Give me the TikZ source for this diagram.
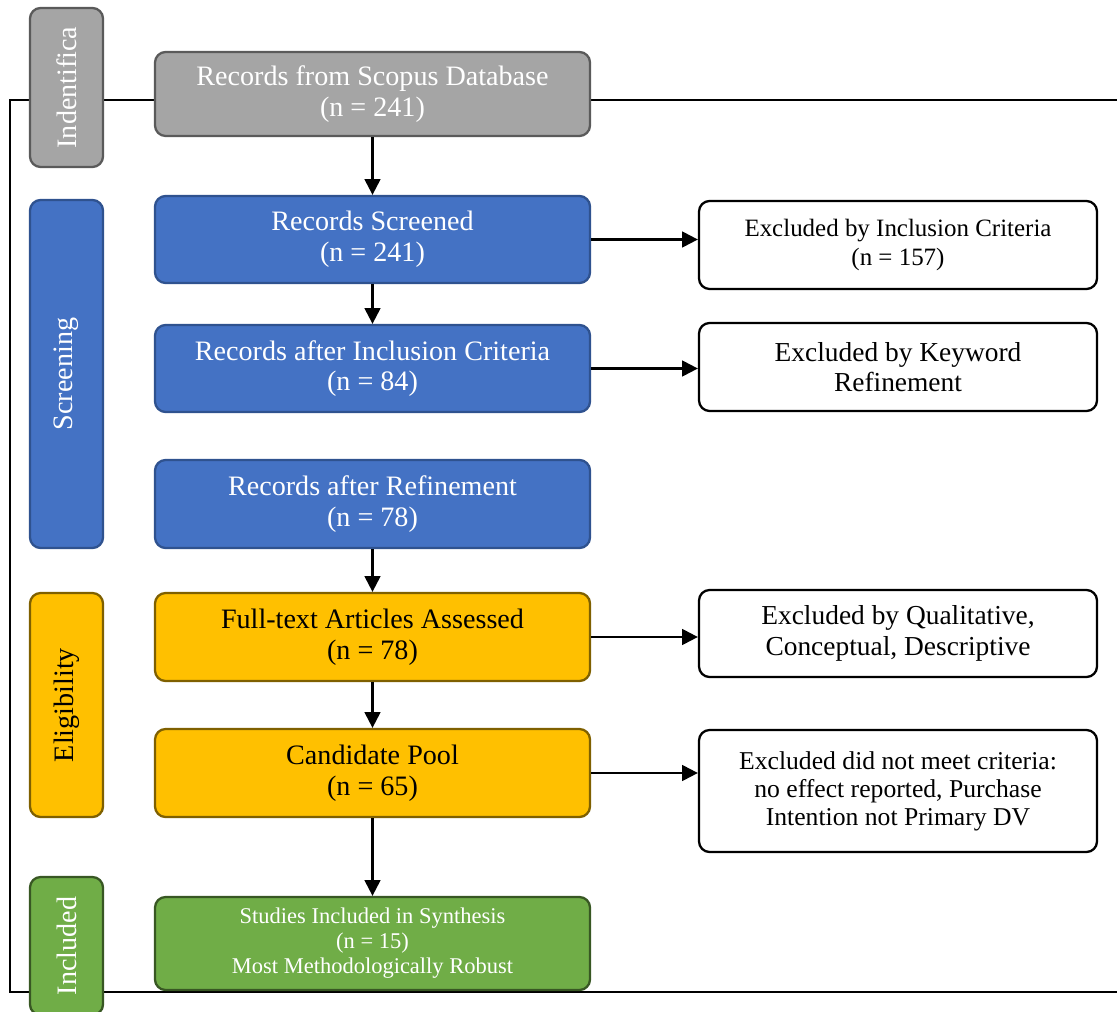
\documentclass[tikz,border=0pt]{standalone}
\usepackage{fontspec}
\setmainfont{Liberation Serif}
\usetikzlibrary{arrows.meta}
\definecolor{idfill}{HTML}{A5A5A5}
\definecolor{iddraw}{HTML}{5A5A5A}
\definecolor{scfill}{HTML}{4472C4}
\definecolor{scdraw}{HTML}{2F528F}
\definecolor{elfill}{HTML}{FFC000}
\definecolor{eldraw}{HTML}{7F6000}
\definecolor{infill}{HTML}{70AD47}
\definecolor{indraw}{HTML}{385723}

\begin{document}
\begin{tikzpicture}[
    >={Triangle[length=9pt,width=9pt]},
    box/.style={draw, line width=1.3pt, rounded corners=6pt, align=center,
      minimum width=8.7cm, inner sep=2pt, font=\fontsize{16}{17.5}\selectfont},
    exbox/.style={box, fill=white, draw=black, minimum width=7.96cm},
    side/.style={draw, line width=1.3pt, rounded corners=6pt, rotate=90,
      minimum height=1.46cm, inner sep=0pt, font=\fontsize{16}{17}\selectfont},
    link/.style={->, line width=1.3pt}
  ]
    \useasboundingbox (0, 0) rectangle (22.34, 20.22);

    % frame round the whole flow
    \coordinate (ftr) at (22.8, 18.22);
    \coordinate (ftl) at (0.2, 18.22);
    \coordinate (fbl) at (0.2, 0.38);
    \coordinate (fbr) at (22.8, 0.38);
    \draw[line width=1.3pt] (ftr) -- (ftl) -- (fbl) -- (fbr);

    % stages down the left side
    \node[side, fill=idfill, draw=iddraw, text=white, minimum width=3.18cm] (id) at (1.33, 18.47) {Indentifica};
    \node[side, fill=scfill, draw=scdraw, text=white, minimum width=6.96cm] (sc) at (1.33, 12.74) {Screening};
    \node[side, fill=elfill, draw=eldraw, text=black, minimum width=4.48cm] (el) at (1.33, 6.12) {Eligibility};
    \node[side, fill=infill, draw=indraw, text=white, minimum width=2.76cm] (in) at (1.33, 1.30) {Included};

    % main column
    \node[box, fill=idfill, draw=iddraw, text=white, minimum height=1.68cm] (src) at (7.45, 18.34)
      {Records from Scopus Database\\(n = 241)};
    \node[box, fill=scfill, draw=scdraw, text=white, minimum height=1.74cm] (scr) at (7.45, 15.43)
      {Records Screened\\(n = 241)};
    \node[box, fill=scfill, draw=scdraw, text=white, minimum height=1.74cm] (inc) at (7.45, 12.85)
      {Records after Inclusion Criteria\\(n = 84)};
    \node[box, fill=scfill, draw=scdraw, text=white, minimum height=1.76cm] (ref) at (7.45, 10.14)
      {Records after Refinement\\(n = 78)};
    \node[box, fill=elfill, draw=eldraw, text=black, minimum height=1.76cm] (full) at (7.45, 7.48)
      {Full-text Articles Assessed\\(n = 78)};
    \node[box, fill=elfill, draw=eldraw, text=black, minimum height=1.76cm] (pool) at (7.45, 4.76)
      {Candidate Pool\\(n = 65)};
    \node[box, fill=infill, draw=indraw, text=white, minimum height=1.86cm,
      font=\fontsize{12.8}{14.2}\selectfont] (syn) at (7.45, 1.35)
      {Studies Included in Synthesis\\(n = 15)\\Most Methodologically Robust};

    % exclusions on the right
    \node[exbox, minimum height=1.76cm, font=\fontsize{14.2}{17}\selectfont] (ex1) at (17.96, 15.32)
      {Excluded by Inclusion Criteria\\(n = 157)};
    \node[exbox, minimum height=1.76cm, font=\fontsize{15.6}{17.5}\selectfont] (ex2) at (17.96, 12.88)
      {Excluded by Keyword\\Refinement};
    \node[exbox, minimum height=1.74cm, font=\fontsize{15.6}{17.5}\selectfont] (ex3) at (17.96, 7.55)
      {Excluded by Qualitative,\\Conceptual, Descriptive};
    \node[exbox, minimum height=2.44cm, font=\fontsize{14.6}{16}\selectfont] (ex4) at (17.96, 4.40)
      {Excluded did not meet criteria:\\no effect reported, Purchase\\Intention not Primary DV};

    % arrows
    \draw[link] (src) -- (scr);
    \draw[link] (scr) -- (inc);
    \draw[link] (ref) -- (full);
    \draw[link] (full) -- (pool);
    \draw[link] (pool) -- (syn);

    \draw[link] (scr.east) -- (scr.east -| ex1.west);
    \draw[link] (inc.east) -- (inc.east -| ex2.west);
    \draw[link] (full.east) -- (full.east -| ex3.west);
    \draw[link] (pool.east) -- (pool.east -| ex4.west);
\end{tikzpicture}
\end{document}
